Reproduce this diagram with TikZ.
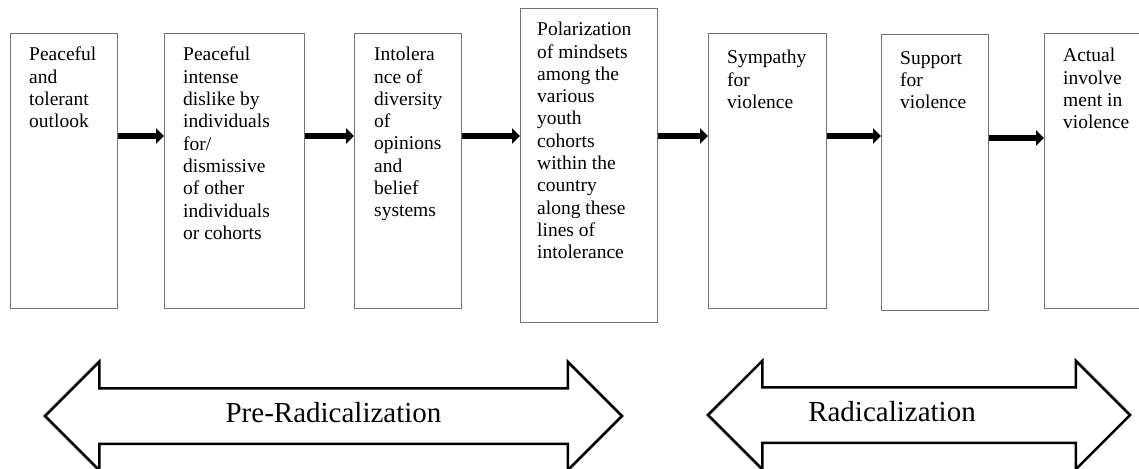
\documentclass[tikz,border=0pt]{standalone}
\usepackage{fontspec}
\setmainfont{Liberation Serif}
\usetikzlibrary{arrows.meta}
\usetikzlibrary{shapes.arrows}

\tikzset{
stagebox/.style={draw=black!55, line width=1.2pt, fill=white, anchor=north west, inner sep=0pt},
stagetext/.style={anchor=north west, align=left, inner sep=0pt, font=\fontsize{19.5}{22.3}\selectfont},
flow/.style={line width=6.5pt, -{Triangle[length=8pt,width=15pt]}},
phase/.style={double arrow, draw=black, line width=2.5pt, double arrow head extend=26.5pt, text height=20pt, text depth=0pt, inner ysep=16.5pt, inner xsep=0pt},
phaselabel/.style={font=\fontsize{29}{30}\selectfont, inner sep=0pt}
}

\begin{document}
\begin{tikzpicture}[x=1pt,y=-1pt]
\useasboundingbox (0,0) rectangle (1139,468);
\clip (0,0) rectangle (1139,468);
% stages
\node[stagebox, minimum width=107pt, minimum height=275pt] (peace) at (10,33) {};
\node[stagebox, minimum width=140pt, minimum height=275pt] (dislike) at (164,33) {};
\node[stagebox, minimum width=107pt, minimum height=275pt] (intol) at (354,33) {};
\node[stagebox, minimum width=137pt, minimum height=314pt] (polar) at (520,8) {};
\node[stagebox, minimum width=118pt, minimum height=275pt] (symp) at (708,33) {};
\node[stagebox, minimum width=107pt, minimum height=276pt] (supp) at (881,34) {};
\node[stagebox, minimum width=110pt, minimum height=275pt] (invol) at (1044,33) {};
\node[stagetext] (peacetxt) at ([shift={(19,14)}]peace.north west) {Peaceful\\and\\tolerant\\outlook};
\node[stagetext] (disliketxt) at ([shift={(19,14)}]dislike.north west) {Peaceful\\intense\\dislike by\\individuals\\for/\\dismissive\\of other\\individuals\\or cohorts};
\node[stagetext] (intoltxt) at ([shift={(20,14)}]intol.north west) {Intolera\\nce of\\diversity\\of\\opinions\\and\\belief\\systems};
\node[stagetext] (polartxt) at ([shift={(17,14)}]polar.north west) {Polarization\\of mindsets\\among the\\various\\youth\\cohorts\\within the\\country\\along these\\lines of\\intolerance};
\node[stagetext] (symptxt) at ([shift={(19,17)}]symp.north west) {Sympathy\\for\\violence};
\node[stagetext] (supptxt) at ([shift={(19,17)}]supp.north west) {Support\\for\\violence};
\node[stagetext] (involtxt) at ([shift={(19,15)}]invol.north west) {Actual\\involve\\ment in\\violence};
% arrows between stages
\coordinate (lev) at (0,136);
\draw[flow] (peace.east |- lev) -- (dislike.west |- lev);
\draw[flow] (dislike.east |- lev) -- (intol.west |- lev);
\draw[flow] (intol.east |- lev) -- (polar.west |- lev);
\draw[flow] (polar.east |- lev) -- (symp.west |- lev);
\draw[flow] (symp.east |- lev) -- (supp.west |- lev);
\draw[flow] ([yshift=-2pt]supp.east |- lev) -- ([yshift=-2pt]invol.west |- lev);
% phases
\node[phase, minimum height=577pt] (pre) at (333.5,416) {};
\node[phase, minimum height=422pt] (rad) at (919,415) {};
\node[phaselabel] (prelbl) at ([yshift=3pt]pre.center) {Pre-Radicalization};
\node[phaselabel] (radlbl) at ([shift={(-27,-3)}]rad.center) {Radicalization};
\end{tikzpicture}
\end{document}
